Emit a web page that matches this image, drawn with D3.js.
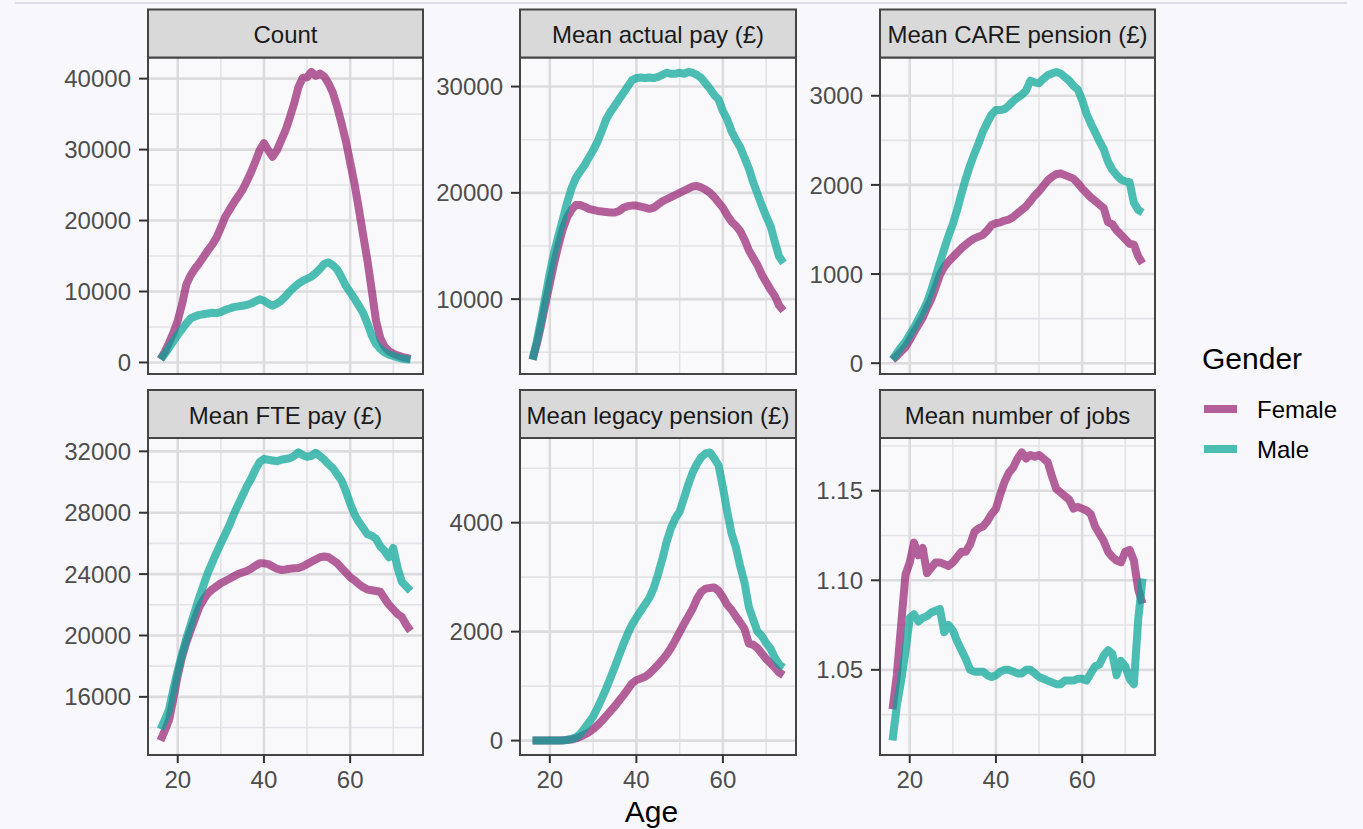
<!DOCTYPE html>
<html>
<head>
<meta charset="utf-8">
<script src="https://cdn.jsdelivr.net/npm/d3@7/dist/d3.min.js"></script>
<style>
html,body{margin:0;padding:0;background:#f8f8fc;}
svg{display:block;font-family:"Liberation Sans",Arial,Helvetica,sans-serif;}
</style>
</head>
<body>
<svg id="chart" width="1363" height="829"></svg>
<script>
// ---------------- DATA ----------------
const ages = [16,17,18,19,20,21,22,23,24,25,26,27,28,29,30,31,32,33,34,35,36,37,38,39,40,41,42,43,44,45,46,47,48,49,50,51,52,53,54,55,56,57,58,59,60,61,62,63,64,65,66,67,68,69,70,71,72,73,74];

const genders = ["Female","Male"];

const panelTitles = ["Count","Mean actual pay (\u00a3)","Mean CARE pension (\u00a3)","Mean FTE pay (\u00a3)","Mean legacy pension (\u00a3)","Mean number of jobs"];

const countFemale = [450,1500,2800,4200,5900, 8200,11000,12300,13200,14000, 14900,15800,16600,17600,19000, 20500,21500,22500,23400,24300, 25500,26800,28300,29900,30900, 29900,29000,29900,31300,32700, 34500,36500,38800,40100,40200, 40950,40400,40700,40300,39300, 38000,36000,33700,31200,28200, 25200,21700,18000,14400,10200, 5900,3400,2200,1600,1250, 1000,800,650,500];
const countMale = [450,1200,2100,3000,3900, 4700,5500,6200,6500,6700, 6800,6900,7000,6950,7100, 7400,7600,7800,7900,8000, 8100,8300,8600,8900,8700, 8300,8000,8300,8700,9300, 10000,10600,11100,11500,11800, 12100,12600,13200,13900,14100, 13700,13100,12000,10800,9900, 9000,8000,7000,5500,3800, 2600,1900,1400,1100,900, 700,550,450,400];

const actualPayFemale = [4310,5800,7600,9600,11500, 13400,15100,16600,17700,18400, 18850,18850,18700,18500,18400, 18300,18250,18200,18150,18150, 18300,18600,18750,18800,18800, 18700,18600,18500,18600,18900, 19200,19400,19600,19800,20000, 20200,20400,20600,20650,20500, 20300,20000,19600,19100,18600, 17900,17300,16900,16400,15600, 14600,13900,13200,12300,11600, 10900,10300,9400,8900];
const actualPayMale = [4310,6100,8100,10300,12500, 14400,16000,17500,19100,20400, 21400,22000,22600,23300,24000, 24800,25800,26900,27600,28200, 28800,29400,30000,30600,30800, 30850,30800,30850,30800,30900, 31100,31300,31200,31200,31300, 31200,31380,31300,31100,30800, 30300,29800,29200,28800,27700, 26900,25800,25000,24300,23300, 22300,21000,19900,18800,17800, 16900,15400,14000,13400];

const carePensionFemale = [40,80,130,180,260, 350,430,510,620,720, 850,990,1080,1140,1190, 1240,1290,1330,1370,1400, 1420,1440,1490,1550,1570, 1580,1600,1610,1640,1680, 1720,1760,1820,1880,1930, 1990,2050,2090,2120,2130, 2110,2090,2070,2020,1960, 1910,1860,1820,1780,1740, 1580,1560,1490,1440,1390, 1340,1330,1200,1120];
const carePensionMale = [40,110,180,240,320, 400,490,580,680,820, 970,1130,1280,1430,1560, 1720,1900,2070,2220,2350, 2470,2600,2700,2790,2840, 2840,2850,2890,2940,2980, 3010,3060,3170,3150,3140, 3190,3230,3250,3268,3250, 3210,3170,3110,3070,2950, 2800,2690,2590,2490,2400, 2260,2170,2110,2060,2040, 2030,1800,1720,1690];

const ftePayFemale = [13150,13800,14500,15900,17400, 18600,19550,20350,21100,21850, 22350,22750,23000,23200,23400, 23550,23700,23850,24000,24100, 24200,24350,24550,24700,24700, 24650,24500,24350,24270,24300, 24350,24380,24400,24500,24650, 24800,24950,25100,25150,25100, 24900,24700,24400,24100,23800, 23600,23350,23150,23000,22950, 22900,22850,22400,22000,21700, 21400,21200,20700,20300];
const ftePayMale = [13900,14500,15200,16500,17700, 18800,19800,20700,21600,22500, 23300,24100,24750,25400,26000, 26600,27200,27900,28500,29100, 29700,30200,30800,31300,31500, 31450,31400,31350,31450,31500, 31550,31700,31930,31750,31650, 31700,31900,31700,31450,31150, 30900,30500,30100,29400,28600, 27900,27400,27000,26600,26500, 26300,25800,25500,25100,25700, 24400,23500,23200,22900];

const legacyPensionFemale = [0,0,0,0,0, 0,0,5,10,20, 40,70,110,150,210, 280,360,450,540,630, 730,830,940,1050,1110, 1140,1170,1230,1310,1390, 1480,1580,1700,1840,1990, 2140,2280,2420,2600,2730, 2790,2800,2810,2750,2630, 2490,2400,2280,2170,2050, 1780,1760,1700,1600,1500, 1420,1340,1250,1200];
const legacyPensionMale = [0,0,0,0,0, 0,0,0,15,30, 60,120,220,330,440, 600,770,950,1150,1350, 1560,1770,1960,2130,2260, 2380,2500,2620,2800,3050, 3330,3650,3900,4080,4200, 4450,4700,4920,5080,5200, 5270,5290,5180,5050,4650, 4200,3800,3550,3200,2900, 2450,2220,2000,1920,1790, 1690,1520,1400,1340];

const jobsFemale = [1.028,1.047,1.075,1.103,1.110, 1.121,1.114,1.118,1.104,1.107, 1.110,1.110,1.109,1.108,1.110, 1.113,1.116,1.116,1.120,1.127, 1.129,1.130,1.133,1.137,1.140, 1.148,1.155,1.160,1.163,1.168, 1.1714,1.168,1.170,1.169,1.170, 1.168,1.166,1.158,1.151,1.149, 1.147,1.145,1.140,1.141,1.140, 1.139,1.137,1.130,1.126,1.122, 1.116,1.113,1.111,1.110,1.116, 1.117,1.111,1.095,1.087];
const jobsMale = [1.0105,1.030,1.044,1.060,1.079, 1.081,1.077,1.079,1.080,1.082, 1.083,1.084,1.071,1.075,1.072, 1.066,1.061,1.056,1.050,1.049, 1.049,1.049,1.047,1.046,1.047, 1.049,1.050,1.050,1.049,1.048, 1.048,1.050,1.050,1.048,1.046, 1.045,1.044,1.043,1.042,1.042, 1.044,1.044,1.044,1.045,1.045, 1.044,1.048,1.052,1.053,1.058, 1.061,1.059,1.047,1.055,1.052, 1.045,1.042,1.078,1.101];

// tick labels (major) and minor grid breaks
const xTicks = [20,40,60];
const xMinor = [30,50,70];
const countTicks = [0,10000,20000,30000,40000];
const countMinor = [5000,15000,25000,35000];
const actualPayTicks = [10000,20000,30000];
const actualPayMinor = [5000,15000,25000];
const careTicks = [0,1000,2000,3000];
const careMinor = [500,1500,2500];
const fteTicks = [16000,20000,24000,28000,32000];
const fteMinor = [14000,18000,22000,26000,30000];
const legacyTicks = [0,2000,4000];
const legacyMinor = [1000,3000,5000];
const jobsTicks = [1.05,1.10,1.15];
const jobsMinor = [1.025,1.075,1.125,1.175];

// --------------- LAYOUT / STYLE ---------------
const colours = {Female:"#951f70", Male:"#02a494"};
const lineOpacity = 0.7;
const lineWidth = 8;

const cols = [{l:148,r:423},{l:520,r:796},{l:880,r:1155}];
const rows = [{s:9.5,t:57.5,b:374},{s:390,t:438,b:755}];

const panels = [
  {title:panelTitles[0], f:countFemale, m:countMale, ticks:countTicks, minor:countMinor, fmt:d3.format("d")},
  {title:panelTitles[1], f:actualPayFemale, m:actualPayMale, ticks:actualPayTicks, minor:actualPayMinor, fmt:d3.format("d")},
  {title:panelTitles[2], f:carePensionFemale, m:carePensionMale, ticks:careTicks, minor:careMinor, fmt:d3.format("d")},
  {title:panelTitles[3], f:ftePayFemale, m:ftePayMale, ticks:fteTicks, minor:fteMinor, fmt:d3.format("d")},
  {title:panelTitles[4], f:legacyPensionFemale, m:legacyPensionMale, ticks:legacyTicks, minor:legacyMinor, fmt:d3.format("d")},
  {title:panelTitles[5], f:jobsFemale, m:jobsMale, ticks:jobsTicks, minor:jobsMinor, fmt:d3.format(".2f")}
];

const svg = d3.select("#chart");

// top rule
svg.append("line").attr("x1",15).attr("x2",1347).attr("y1",3).attr("y2",3)
  .attr("stroke","#dedee6").attr("stroke-width",2);

const xExt = d3.extent(ages);
const xPad = (xExt[1]-xExt[0])*0.05;

panels.forEach((p,i)=>{
  const c = cols[i%3], r = rows[Math.floor(i/3)];
  const g = svg.append("g");
  const x = d3.scaleLinear().domain([xExt[0]-xPad, xExt[1]+xPad]).range([c.l,c.r]);
  const all = p.f.concat(p.m);
  const yExt = d3.extent(all);
  const yPad = (yExt[1]-yExt[0])*0.05;
  const y = d3.scaleLinear().domain([yExt[0]-yPad, yExt[1]+yPad]).range([r.b,r.t]);

  // panel background
  g.append("rect").attr("x",c.l).attr("y",r.t).attr("width",c.r-c.l).attr("height",r.b-r.t)
    .attr("fill","#f9f9fc");

  // minor grid
  g.selectAll(".ymin").data(p.minor.filter(v=>v>=y.domain()[0]&&v<=y.domain()[1])).join("line")
    .attr("x1",c.l).attr("x2",c.r).attr("y1",d=>y(d)).attr("y2",d=>y(d))
    .attr("stroke","#e4e4e8").attr("stroke-width",1.6);
  g.selectAll(".xmin").data(xMinor).join("line")
    .attr("y1",r.t).attr("y2",r.b).attr("x1",d=>x(d)).attr("x2",d=>x(d))
    .attr("stroke","#e4e4e8").attr("stroke-width",1.6);
  // major grid
  g.selectAll(".ymaj").data(p.ticks).join("line")
    .attr("x1",c.l).attr("x2",c.r).attr("y1",d=>y(d)).attr("y2",d=>y(d))
    .attr("stroke","#dcdcdf").attr("stroke-width",2.6);
  g.selectAll(".xmaj").data(xTicks).join("line")
    .attr("y1",r.t).attr("y2",r.b).attr("x1",d=>x(d)).attr("x2",d=>x(d))
    .attr("stroke","#dcdcdf").attr("stroke-width",2.6);

  // lines
  const line = d3.line().x((d,j)=>x(ages[j])).y(d=>y(d)).curve(d3.curveLinear);
  [["Female",p.f],["Male",p.m]].forEach(([gname,vals])=>{
    g.append("path").datum(vals).attr("d",line)
      .attr("fill","none").attr("stroke",colours[gname]).attr("stroke-opacity",lineOpacity)
      .attr("stroke-width",lineWidth).attr("stroke-linejoin","round");
  });

  // panel border
  g.append("rect").attr("x",c.l).attr("y",r.t).attr("width",c.r-c.l).attr("height",r.b-r.t)
    .attr("fill","none").attr("stroke","#444").attr("stroke-width",2);

  // strip
  g.append("rect").attr("x",c.l).attr("y",r.s).attr("width",c.r-c.l).attr("height",r.t-r.s)
    .attr("fill","#d9d9d9").attr("stroke","#444").attr("stroke-width",2);
  g.append("text").attr("x",(c.l+c.r)/2).attr("y",(r.s+r.t)/2+9.5)
    .attr("text-anchor","middle").attr("font-size",24).attr("fill","#1a1a1a").text(p.title);

  // y axis
  const ya = g.append("g");
  ya.selectAll("line").data(p.ticks).join("line")
    .attr("x1",c.l-9).attr("x2",c.l).attr("y1",d=>y(d)).attr("y2",d=>y(d))
    .attr("stroke","#333").attr("stroke-width",2);
  ya.selectAll("text").data(p.ticks).join("text")
    .attr("x",c.l-17).attr("y",d=>y(d)).attr("dy","0.36em")
    .attr("text-anchor","end").attr("font-size",24).attr("fill","#4d4d4d")
    .text(d=>p.fmt(d));

  // x axis on bottom row only
  if (Math.floor(i/3)===1){
    const xa = g.append("g");
    xa.selectAll("line").data(xTicks).join("line")
      .attr("x1",d=>x(d)).attr("x2",d=>x(d)).attr("y1",r.b).attr("y2",r.b+8)
      .attr("stroke","#333").attr("stroke-width",2);
    xa.selectAll("text").data(xTicks).join("text")
      .attr("x",d=>x(d)).attr("y",r.b+33)
      .attr("text-anchor","middle").attr("font-size",24).attr("fill","#4d4d4d")
      .text(d=>d);
  }
});

// x title
svg.append("text").attr("x",(cols[0].l+cols[2].r)/2).attr("y",822)
  .attr("text-anchor","middle").attr("font-size",30).attr("fill","#000").text("Age");

// legend
const lg = svg.append("g");
lg.append("text").attr("x",1202).attr("y",369).attr("font-size",30).attr("fill","#000").text("Gender");
genders.forEach((gname,k)=>{
  const cy = 409 + k*40;
  lg.append("line").attr("x1",1204).attr("x2",1237).attr("y1",cy).attr("y2",cy)
    .attr("stroke",colours[gname]).attr("stroke-opacity",lineOpacity).attr("stroke-width",lineWidth);
  lg.append("text").attr("x",1257).attr("y",cy+8.6).attr("font-size",24).attr("fill","#000").text(gname);
});
</script>
</body>
</html>
